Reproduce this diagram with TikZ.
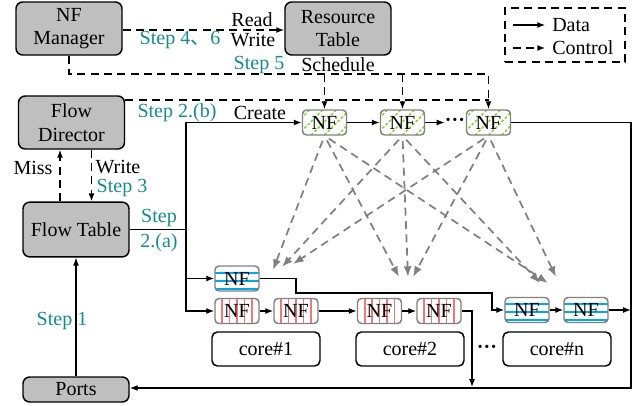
\documentclass[tikz,border=0pt]{standalone}
\usepackage{fontspec}
\setmainfont{LiberationSerif}[Extension=.ttf, UprightFont=*-Regular, BoldFont=*-Bold,
    ItalicFont=*-Italic, BoldItalicFont=*-BoldItalic]
\newfontfamily\cjkfont{Noto Sans CJK SC}
\usepackage{tikz}
\usetikzlibrary{arrows.meta,positioning}

\definecolor{boxgray}{RGB}{191,191,191}
\definecolor{steptext}{RGB}{20,140,140}
\definecolor{greenline}{RGB}{140,210,60}
\definecolor{redline}{RGB}{240,120,125}
\definecolor{blueline}{RGB}{0,170,230}
\definecolor{arrowgray}{RGB}{128,128,128}

\tikzset{
    ctrlbox/.style={draw, line width=1.1pt, rounded corners=5pt, fill=boxgray,
        minimum width=79.5pt, minimum height=39.75pt, align=center, inner sep=1pt},
    nfbox/.style={draw=gray, line width=1.1pt, rounded corners=3pt,
        minimum width=33pt, minimum height=18.75pt, inner sep=0pt},
    nfgreen/.style={nfbox, path picture={
        \foreach \k in {-3,...,3}
            \draw[greenline, line width=1.2pt, dash pattern=on 2pt off 1.5pt]
                ([xshift=\k*10pt-10pt]path picture bounding box.south) -- ++(20pt,20pt);}},
    nfred/.style={nfbox, path picture={
        \foreach \k in {-2,...,2}
            \draw[redline, line width=1.4pt]
                ([xshift=\k*5.6pt]path picture bounding box.south) -- ([xshift=\k*5.6pt]path picture bounding box.north);}},
    nfblue/.style={nfbox, path picture={
        \foreach \k in {4.5,-1.5,-7.5}
            \draw[blueline, line width=1.5pt]
                ([yshift=\k pt]path picture bounding box.west) -- ([yshift=\k pt]path picture bounding box.east);}},
    corebox/.style={draw, line width=1.1pt, rounded corners=4pt,
        minimum width=81pt, minimum height=25.5pt},
    dotsnode/.style={inner sep=0pt, font=\fontsize{15}{17.5}\selectfont\bfseries},
    steplbl/.style={text=steptext},
    data/.style={->, line width=1pt},
    ctrl/.style={->, line width=1.1pt, dash pattern=on 6pt off 4pt},
    hint/.style={-{Latex[length=8pt,width=6pt]}, draw=arrowgray, line width=1.3pt,
        dash pattern=on 6pt off 4pt, shorten <=4pt},
}

\begin{document}
\begin{tikzpicture}[x=0.75pt, y=-0.75pt, >={Latex[length=6pt,width=4.5pt]},
    every node/.style={font=\fontsize{15}{17.5}\selectfont}]
    \useasboundingbox (0,0) rectangle (636,405);

    % control blocks
    \node[ctrlbox] (nfmgr) at (69,28.5) {NF\\Manager};
    \node[ctrlbox] (restab) at (338,28.5) {Resource\\Table};
    \node[ctrlbox] (flowdir) at (71.5,122.5) {Flow\\Director};
    \node[ctrlbox, minimum height=41pt] (flowtab) at (76,229.5) {Flow Table};
    \node[ctrlbox, minimum height=18.75pt] (ports) at (76,389.5) {Ports};

    % legend
    \node[draw, line width=1.1pt, dash pattern=on 6pt off 4pt, minimum width=90pt,
        minimum height=40.5pt] (legend) at (565,35) {};
    \node[anchor=west, inner sep=0pt] (ldata) at (552,25) {Data};
    \node[anchor=west, inner sep=0pt] (lctrl) at (552,48) {Control};
    \coordinate (ldatafrom) at (513,25);
    \coordinate (lctrlfrom) at (513,48);
    \draw[data] (ldatafrom) -- ([xshift=-5pt]ldata.west);
    \draw[ctrl] (lctrlfrom) -- ([xshift=-5pt]lctrl.west);

    % shared NFs
    \node[nfgreen] (gnf1) at (324.5,122.5) {NF};
    \node[nfgreen] (gnf2) at (402.5,122.5) {NF};
    \node[dotsnode] (gdots) at (455,122.5) {···};
    \node[nfgreen] (gnf3) at (488.5,122.5) {NF};
    \draw[data] (gnf1) -- (gnf2);
    \draw[data] (gnf2) -- (gdots);

    % per-core NFs
    \node[nfblue] (bnf1) at (237,278.5) {NF};
    \node[nfred] (rnf1) at (237,311) {NF};
    \node[nfred] (rnf2) at (296,311) {NF};
    \node[nfred] (rnf3) at (379.5,311) {NF};
    \node[nfred] (rnf4) at (439,311) {NF};
    \node[nfblue] (bnf2) at (527,310) {NF};
    \node[nfblue] (bnf3) at (586,310) {NF};
    \draw[data] (rnf1) -- (rnf2);
    \draw[data] (rnf2) -- (rnf3);
    \draw[data] (rnf3) -- (rnf4);
    \draw[data] (bnf2) -- (bnf3);

    % cores
    \node[corebox] (core1) at (266,349) {core\#1};
    \node[corebox] (core2) at (410,349) {core\#2};
    \node[corebox] (coren) at (557,349) {core\#n};
    \node[dotsnode] (cdots) at (487,349) {···};

    % NF manager <-> resource table
    \draw[ctrl] (nfmgr.east |- 0,30) -- (restab.west |- 0,30);
    \node (lread) at (252,20) {Read};
    \node (lwrite) at (253,40) {Write};
    \node[steplbl] (lstep46) at (180,40) {Step 4{\cjkfont 、}6};

    % schedule and create
    \coordinate (schedrow) at (0,74);
    \coordinate (createrow) at (0,100);
    \draw[ctrl] (nfmgr.south) |- (gnf3.north |- schedrow) -- (gnf3.north);
    \draw[ctrl] (gnf1.north |- schedrow) -- (gnf1.north);
    \draw[ctrl] (gnf2.north |- schedrow) -- (gnf2.north);
    \draw[line width=1.1pt, dash pattern=on 6pt off 4pt] (flowdir.east |- createrow) -- (gnf3.north |- createrow);
    \node[steplbl] (lstep5) at (259,65) {Step 5};
    \node (lsched) at (338,65) {Schedule};
    \node[steplbl] (lstep2b) at (177,113) {Step 2.(b)};
    \node (lcreate) at (260,113) {Create};

    % flow director <-> flow table
    \draw[ctrl] ([xshift=-12pt]flowtab.north) -- ([xshift=-12pt]flowtab.north |- flowdir.south);
    \draw[ctrl] ([xshift=15pt]flowdir.south) -- ([xshift=15pt]flowdir.south |- flowtab.north);
    \node (lmiss) at (33,168) {Miss};
    \node (lwrite2) at (118,167) {Write};
    \node[steplbl] (lstep3) at (122,188) {Step 3};

    % flow table to NFs
    \coordinate (split) at (186,229.5);
    \draw[line width=1pt] (flowtab.east) -- (split);
    \draw[data] (split) |- (gnf1.west);
    \draw[data] (split) |- (bnf1.west);
    \draw[data] (split) |- (rnf1.west);
    \node[steplbl, align=center, font=\fontsize{15}{18.75}\selectfont] (lstep2a) at (159,230.5) {Step\\2.(a)};

    % ports
    \draw[data] (ports.north) -- (flowtab.south);
    \node[steplbl] (lstep1) at (62,321) {Step 1};

    % data paths to the exit
    \coordinate (bj1) at (296,293);
    \coordinate (bj2) at (492,293);
    \coordinate (rdown) at (472,387);
    \coordinate (rail) at (631,388);
    \draw[data] (bnf1.east) -| (bj1) -- (bj2) |- (bnf2.west);
    \draw[data] (rnf4.east) -| (rdown);
    \draw[data] (bnf3.east) -- (bnf3.east -| rail);
    \draw[data] (gnf3.east) -| (rail) -- (rail -| ports.east);

    % possible placements
    \coordinate (ta1) at (273,270);
    \coordinate (ta2) at (282,267);
    \coordinate (ta3) at (293,264);
    \coordinate (tb1) at (399,277);
    \coordinate (tb2) at (408,277);
    \coordinate (tb3) at (413,277);
    \coordinate (tc1) at (548,283);
    \coordinate (tc2) at (540,283);
    \coordinate (tc3) at (556,277);
    \draw[hint] (gnf1.south) -- (ta1);
    \draw[hint] (gnf1.south) -- (tb1);
    \draw[hint] (gnf1.south) -- (tc1);
    \draw[hint] (gnf2.south) -- (ta2);
    \draw[hint] (gnf2.south) -- (tb2);
    \draw[hint] (gnf2.south) -- (tc2);
    \draw[hint] (gnf3.south) -- (ta3);
    \draw[hint] (gnf3.south) -- (tb3);
    \draw[hint] (gnf3.south) -- (tc3);
\end{tikzpicture}
\end{document}
